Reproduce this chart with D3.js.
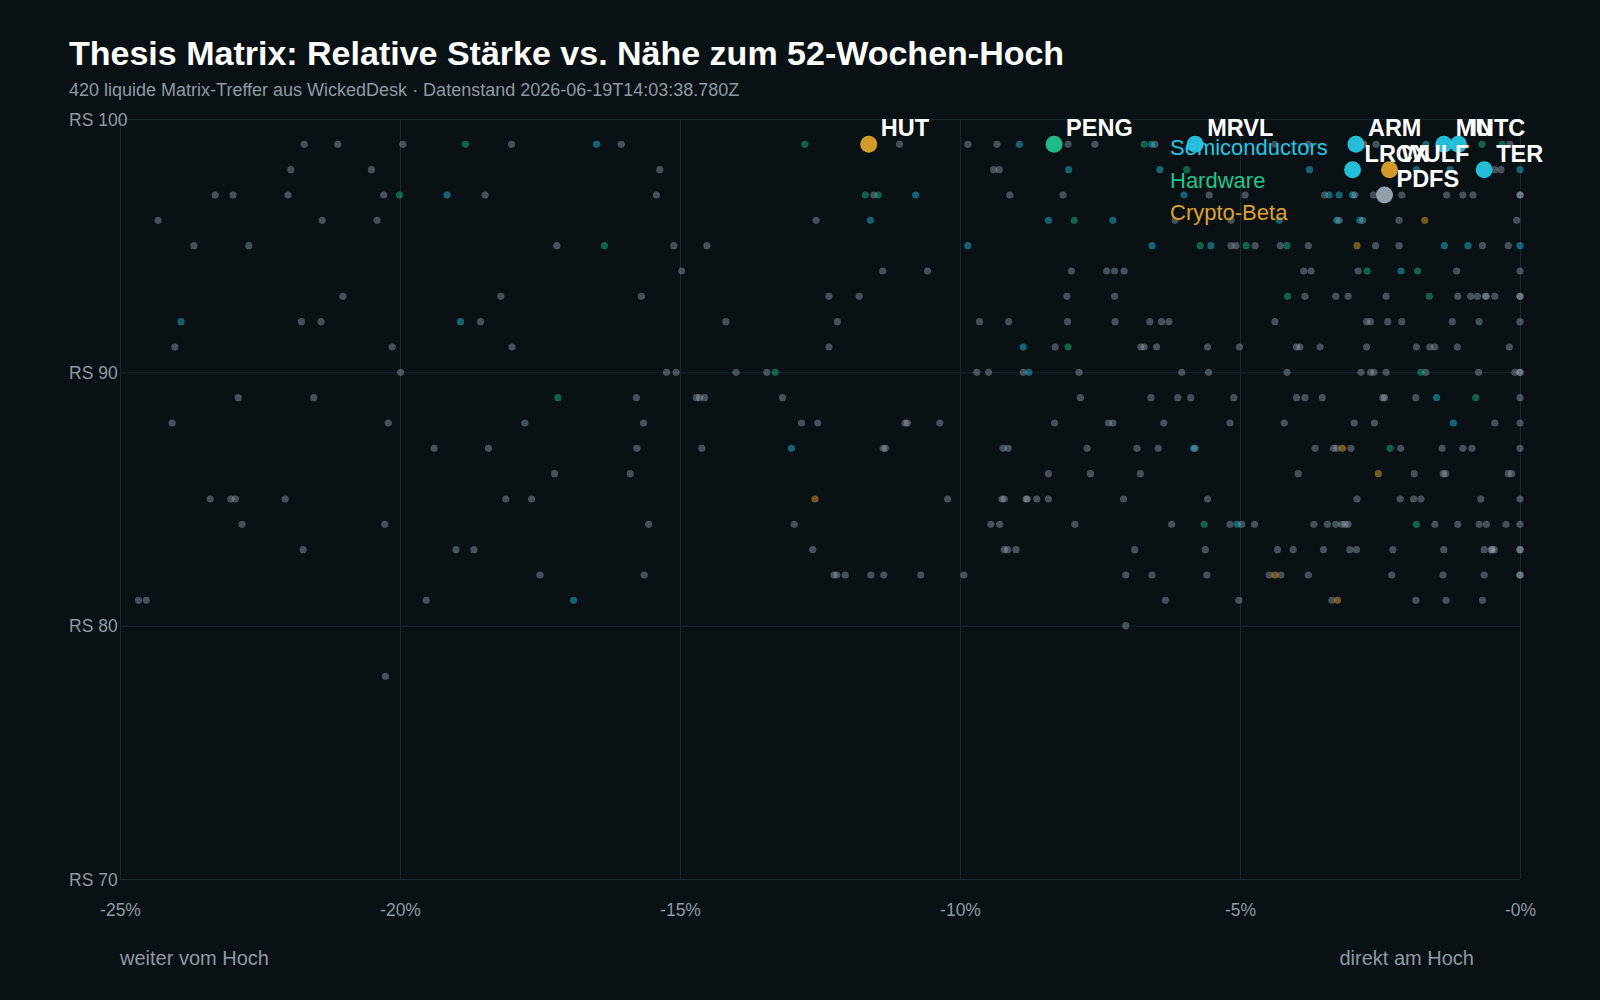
<!DOCTYPE html>
<html>
<head>
<meta charset="utf-8">
<script src="https://cdn.jsdelivr.net/npm/d3@7"></script>
<style>
  html, body { margin: 0; padding: 0; background: #0a1115; }
  svg { display: block; font-family: "Liberation Sans", Arial, Helvetica, sans-serif; }
  .grid line { stroke: #1b2830; stroke-width: 1; }
  .grid path { display: none; }
  .tick-label { fill: #8e9aa2; font-size: 17.5px; }
</style>
</head>
<body>
<svg id="chart"></svg>
<script>
// --- data (x = Abstand zum 52W-Hoch in %, y = RS-Rating) ---
const sectors = ['Semiconductors', 'Hardware', 'Crypto-Beta'];

const otherPts = [
  [-21.71, 99], [-21.11, 99], [-19.95, 99], [-18.01, 99], [-16.05, 99], [-11.08, 99], [-9.86, 99], [-9.34, 99], [-8.07, 99], [-7.59, 99], [-6.52, 99], [-4.38, 99], [-3.78, 99], [-2.57, 99], [-0.18, 99],
  [-21.95, 98], [-20.51, 98], [-15.36, 98], [-9.40, 98], [-9.30, 98], [-0.45, 98], [-0.34, 98],
  [-23.3, 97], [-22.98, 97], [-22.0, 97], [-20.29, 97], [-18.48, 97], [-15.42, 97], [-11.54, 97], [-9.11, 97], [-8.16, 97], [-5.55, 97], [-4.91, 97], [-3.49, 97], [-2.95, 97], [-2.62, 97], [-2.11, 97], [-1.31, 97], [-1.02, 97], [-0.84, 97], [0, 97], [0, 97],
  [-24.32, 96], [-21.39, 96], [-20.41, 96], [-12.57, 96], [-6.16, 96], [-5.16, 96], [-3.23, 96], [-2.81, 96], [-2.16, 96], [-0.06, 96],
  [-23.68, 95], [-22.70, 95], [-17.2, 95], [-15.11, 95], [-14.52, 95], [-5.16, 95], [-5.07, 95], [-4.73, 95], [-4.28, 95], [-3.78, 95], [-2.58, 95], [-2.16, 95], [-0.67, 95], [-0.21, 95],
  [-14.97, 94], [-11.38, 94], [-10.58, 94], [-8.01, 94], [-7.38, 94], [-7.24, 94], [-7.07, 94], [-3.86, 94], [-3.73, 94], [-2.89, 94], [-1.13, 94], [0, 94],
  [-21.02, 93], [-18.20, 93], [-15.69, 93], [-12.34, 93], [-11.8, 93], [-8.09, 93], [-7.24, 93], [-3.84, 93], [-3.29, 93], [-3.07, 93], [-2.39, 93], [-1.11, 93], [-0.88, 93], [-0.76, 93], [-0.62, 93], [-0.60, 93], [-0.45, 93], [0, 93], [0, 93],
  [-21.76, 92], [-21.41, 92], [-18.56, 92], [-14.18, 92], [-12.19, 92], [-9.65, 92], [-9.13, 92], [-8.08, 92], [-7.23, 92], [-6.61, 92], [-6.40, 92], [-6.27, 92], [-4.375, 92], [-2.74, 92], [-2.67, 92], [-2.36, 92], [-2.11, 92], [-1.21, 92], [-0.73, 92], [0, 92],
  [-24.02, 91], [-20.14, 91], [-18.0, 91], [-12.34, 91], [-8.30, 91], [-6.77, 91], [-6.71, 91], [-6.49, 91], [-5.58, 91], [-5.01, 91], [-3.99, 91], [-3.93, 91], [-3.57, 91], [-2.74, 91], [-1.85, 91], [-1.61, 91], [-1.52, 91], [-1.12, 91], [-0.19, 91],
  [-19.99, 90], [-15.24, 90], [-15.07, 90], [-14.0, 90], [-13.45, 90], [-9.70, 90], [-9.49, 90], [-8.87, 90], [-7.875, 90], [-6.04, 90], [-5.56, 90], [-4.16, 90], [-2.84, 90], [-2.67, 90], [-2.61, 90], [-2.39, 90], [-1.68, 90], [-0.74, 90], [-0.09, 90], [0, 90], [0, 90],
  [-22.89, 89], [-21.54, 89], [-15.78, 89], [-14.71, 89], [-14.65, 89], [-14.56, 89], [-13.17, 89], [-7.85, 89], [-6.59, 89], [-6.11, 89], [-5.88, 89], [-5.11, 89], [-3.99, 89], [-3.84, 89], [-3.53, 89], [-2.45, 89], [-2.42, 89], [-1.86, 89], [0, 89],
  [-24.07, 88], [-20.21, 88], [-17.77, 88], [-15.65, 88], [-12.83, 88], [-12.54, 88], [-10.98, 88], [-10.94, 88], [-10.36, 88], [-8.31, 88], [-7.35, 88], [-7.27, 88], [-6.36, 88], [-5.18, 88], [-4.21, 88], [-2.96, 88], [-2.60, 88], [-0.45, 88], [0, 88],
  [-19.39, 87], [-18.42, 87], [-15.77, 87], [-14.61, 87], [-11.37, 87], [-11.33, 87], [-9.23, 87], [-9.14, 87], [-7.73, 87], [-6.84, 87], [-6.46, 87], [-5.80, 87], [-3.66, 87], [-3.33, 87], [-3.27, 87], [-3.02, 87], [-2.13, 87], [-1.39, 87], [-1.02, 87], [-0.86, 87], [0, 87],
  [-17.24, 86], [-15.89, 86], [-8.42, 86], [-7.67, 86], [-6.78, 86], [-3.96, 86], [-1.89, 86], [-1.37, 86], [-1.33, 86], [-0.21, 86], [-0.15, 86],
  [-23.39, 85], [-23.02, 85], [-22.94, 85], [-22.05, 85], [-18.11, 85], [-17.65, 85], [-10.22, 85], [-9.25, 85], [-9.21, 85], [-8.82, 85], [-8.80, 85], [-8.63, 85], [-8.42, 85], [-7.08, 85], [-5.58, 85], [-2.91, 85], [-2.14, 85], [-1.90, 85], [-1.77, 85], [-0.70, 85], [0, 85],
  [-22.82, 84], [-20.27, 84], [-15.56, 84], [-12.96, 84], [-9.45, 84], [-9.29, 84], [-7.95, 84], [-6.22, 84], [-5.18, 84], [-4.97, 84], [-4.74, 84], [-3.68, 84], [-3.44, 84], [-3.29, 84], [-3.18, 84], [-3.12, 84], [-3.07, 84], [-1.52, 84], [-1.11, 84], [-0.73, 84], [-0.60, 84], [-0.25, 84], [0, 84],
  [-21.73, 83], [-19.0, 83], [-18.68, 83], [-12.63, 83], [-9.21, 83], [-9.15, 83], [-9.0, 83], [-6.88, 83], [-5.62, 83], [-4.33, 83], [-4.05, 83], [-3.51, 83], [-3.04, 83], [-2.92, 83], [-2.27, 83], [-1.36, 83], [-0.64, 83], [-0.51, 83], [-0.50, 83], [-0.46, 83], [0, 83], [0, 83],
  [-17.5, 82], [-15.64, 82], [-12.25, 82], [-12.2, 82], [-12.05, 82], [-11.59, 82], [-11.36, 82], [-10.70, 82], [-9.93, 82], [-7.04, 82], [-6.57, 82], [-5.59, 82], [-4.48, 82], [-4.27, 82], [-3.78, 82], [-2.29, 82], [-1.375, 82], [-0.64, 82], [0, 82], [0, 82],
  [-24.67, 81], [-24.53, 81], [-19.53, 81], [-6.33, 81], [-5.02, 81], [-3.36, 81], [-1.86, 81], [-1.32, 81], [-0.67, 81],
  [-7.04, 80], [-20.26, 78]
];

const semiPts = [
  [-16.49, 99], [-8.94, 99], [-6.58, 99], [-1.68, 99],
  [-8.06, 98], [-6.43, 98], [-3.76, 98], [-1.85, 98], [-1.25, 98], [0, 98],
  [-19.16, 97], [-10.79, 97], [-6.0, 97], [-3.41, 97], [-3.23, 97], [-2.99, 97],
  [-11.6, 96], [-8.42, 96], [-7.27, 96], [-4.30, 96], [-3.27, 96], [-2.86, 96],
  [-9.86, 95], [-6.57, 95], [-5.52, 95], [-1.35, 95], [-0.93, 95], [0, 95],
  [-2.125, 94],
  [-23.91, 92], [-18.92, 92],
  [-8.87, 91],
  [-8.77, 90],
  [-1.49, 89],
  [-1.19, 88],
  [-13.01, 87], [-5.83, 87],
  [-5.05, 84],
  [-16.9, 81]
];

const hwPts = [
  [-18.83, 99], [-12.77, 99], [-6.71, 99], [-0.68, 99], [-0.32, 99],
  [-5.95, 98],
  [-20.01, 97], [-11.69, 97], [-11.46, 97],
  [-7.96, 96],
  [-16.35, 95], [-5.71, 95], [-4.89, 95], [-4.16, 95],
  [-2.73, 94], [-1.83, 94],
  [-4.15, 93], [-1.62, 93],
  [-8.07, 91],
  [-13.30, 90], [-1.77, 90],
  [-17.18, 89], [-0.79, 89],
  [-2.32, 87],
  [-5.64, 84], [-1.85, 84]
];

const cryptoPts = [
  [-2.79, 99], [-1.70, 96], [-2.91, 95], [-3.17, 87], [-2.53, 86], [-12.59, 85], [-4.375, 82], [-3.26, 81]
];

// hervorgehobene Titel
const tickers = ['HUT', 'PENG', 'MRVL', 'ARM', 'LRCX', 'WULF', 'PDFS', 'MU', 'INTC', 'TER'];
const tickerSector = ['Crypto-Beta', 'Hardware', 'Semiconductors', 'Semiconductors', 'Semiconductors', 'Crypto-Beta', 'Other', 'Semiconductors', 'Semiconductors', 'Semiconductors'];
const tickerDist = [-11.63, -8.32, -5.80, -2.93, -2.99, -2.33, -2.42, -1.36, -1.10, -0.64];
const tickerRS = [99, 99, 99, 99, 98, 98, 97, 99, 99, 98];

const xTicks = [-25, -20, -15, -10, -5, 0];
const xTickLabels = ['-25%', '-20%', '-15%', '-10%', '-5%', '-0%'];
const yTicks = [70, 80, 90, 100];

const colors = {
  'Semiconductors': '#27c6e2',
  'Hardware': '#22c48c',
  'Crypto-Beta': '#dda22c',
  'Other': '#9aa9b4'
};

const margin = { top: 119, right: 80, bottom: 121, left: 120 };
const W = 1600, H = 1000;
const dims = { width: W - margin.left - margin.right, height: H - margin.top - margin.bottom };

const svg = d3.select('#chart').attr('width', W).attr('height', H);
svg.append('rect').attr('width', W).attr('height', H).attr('fill', '#0a1115');

// title
svg.append('text')
   .attr('x', 69).attr('y', 65)
   .attr('fill', '#ffffff')
   .style('font-size', '34px').style('font-weight', 'bold')
   .text('Thesis Matrix: Relative Stärke vs. Nähe zum 52-Wochen-Hoch');

svg.append('text')
   .attr('x', 69).attr('y', 96)
   .attr('fill', '#8e9aa2')
   .style('font-size', '18px')
   .text('420 liquide Matrix-Treffer aus WickedDesk · Datenstand 2026-06-19T14:03:38.780Z');

const g = svg.append('g').attr('transform', `translate(${margin.left}, ${margin.top})`);

const x = d3.scaleLinear().domain([-25, 0]).range([0, dims.width]);
const y = d3.scaleLinear().domain([70, 100]).range([dims.height, 0]);

// grid + axes
const xAxis = g.append('g')
   .attr('class', 'grid')
   .attr('transform', `translate(0, ${dims.height})`)
   .call(d3.axisBottom(x).tickValues(xTicks).tickSize(-dims.height)
         .tickFormat((d, i) => xTickLabels[i]));
xAxis.selectAll('text')
   .attr('class', 'tick-label')
   .attr('y', 37).attr('dy', null);

const yAxis = g.append('g')
   .attr('class', 'grid')
   .call(d3.axisLeft(y).tickValues(yTicks).tickSize(-dims.width)
         .tickFormat(d => 'RS ' + d));
yAxis.selectAll('text')
   .attr('class', 'tick-label')
   .attr('x', -51).attr('dy', '0.35em')
   .style('text-anchor', 'start');

// small points
function drawSmall(pts, color, op) {
  g.append('g').selectAll('circle')
   .data(pts)
   .enter().append('circle')
   .attr('cx', d => x(d[0]))
   .attr('cy', d => y(d[1]))
   .attr('r', 3.6)
   .attr('fill', color)
   .attr('fill-opacity', op);
}
drawSmall(otherPts, colors['Other'], 0.42);
drawSmall(semiPts, colors['Semiconductors'], 0.45);
drawSmall(hwPts, colors['Hardware'], 0.45);
drawSmall(cryptoPts, colors['Crypto-Beta'], 0.5);

// highlighted tickers
const hi = tickers.map((t, i) => ({ t: t, s: tickerSector[i], d: tickerDist[i], rs: tickerRS[i] }));

g.append('g').selectAll('circle')
   .data(hi)
   .enter().append('circle')
   .attr('cx', d => x(d.d))
   .attr('cy', d => y(d.rs))
   .attr('r', 8.5)
   .attr('fill', d => colors[d.s])
   .attr('fill-opacity', 0.95);

g.append('g').selectAll('text')
   .data(hi)
   .enter().append('text')
   .attr('x', d => x(d.d) + 12)
   .attr('y', d => y(d.rs) - 8)
   .attr('fill', '#ffffff')
   .style('font-size', '23.5px').style('font-weight', 'bold')
   .text(d => d.t);

// legend
const legend = svg.append('g').attr('transform', 'translate(1170, 155)');
legend.selectAll('text')
   .data(sectors)
   .enter().append('text')
   .attr('x', 0)
   .attr('y', (d, i) => i * 32.5)
   .attr('fill', d => colors[d])
   .style('font-size', '22px')
   .text(d => d);

// bottom hints
svg.append('text')
   .attr('x', 120).attr('y', 965)
   .attr('fill', '#8e9aa2').style('font-size', '20px')
   .text('weiter vom Hoch');
svg.append('text')
   .attr('x', 1474).attr('y', 965)
   .attr('fill', '#8e9aa2').style('font-size', '20px')
   .style('text-anchor', 'end')
   .text('direkt am Hoch');
</script>
</body>
</html>
